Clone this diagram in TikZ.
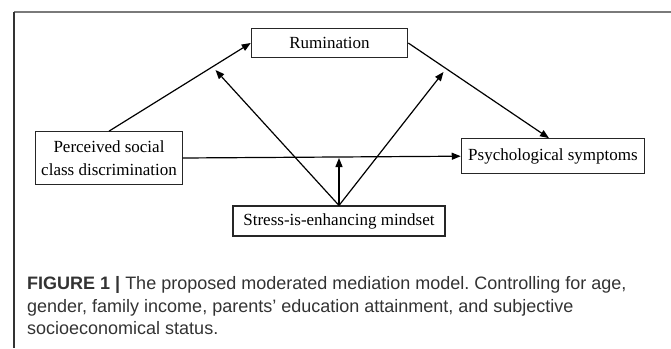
\documentclass[tikz,border=0pt]{standalone}
\usepackage{fontspec}
\setmainfont{Liberation Serif}
\newfontfamily\capfont{Liberation Sans}
\usetikzlibrary{arrows.meta}
\frenchspacing
\definecolor{capgray}{HTML}{333333}
\definecolor{framegray}{HTML}{7A7A7A}
\tikzset{
  box/.style={draw=black!85, line width=1.1pt, inner sep=0pt, align=center,
    font=\fontsize{17}{22.5}\selectfont},
  conn/.style={line width=1.2pt, -{Triangle[length=9pt,width=7pt]}},
  capline/.style={anchor=base west, inner sep=0pt, text=capgray,
    font=\capfont\fontsize{18}{22}\selectfont}
}
\begin{document}
\begin{tikzpicture}[x=1pt,y=-1pt]
\useasboundingbox (0,0) rectangle (671,348);
% frame
\draw[framegray, line width=1.3pt] (14,12) -- (671,12);
\draw[black!80, line width=1.3pt] (14,12) -- (14,348);
% nodes
\node[box, minimum width=156.4pt, minimum height=28.6pt] (R) at (329.5,43) {Rumination};
\node[box, minimum width=146.3pt, minimum height=52.6pt] (P) at (109,158) {Perceived social\\class discrimination};
\node[box, minimum width=183.4pt, minimum height=35pt] (Y) at (553,156.2) {Psychological symptoms};
\node[box, minimum width=212pt, minimum height=30pt] (S) at (339,221) {Stress-is-enhancing mindset};
% moderation targets
\coordinate (ma) at (215.5,70);
\coordinate (mb) at (443.5,72);
% paths
\draw[conn] (P.north) -- (R.west);
\draw[conn] (R.east) -- ([xshift=-4pt]Y.north);
\draw[conn] (P.east) -- (Y.west);
\draw[conn] (S.north) -- (ma);
\draw[conn] (S.north) -- (mb);
\draw[conn] (S.north) -- (S.north |- P.east);
% caption
\node[capline] (c1) at (27,289.5) {\textbf{FIGURE 1 |} The proposed moderated mediation model. Controlling for age,};
\node[capline] (c2) at (27,312) {gender, family income, parents’ education attainment, and subjective};
\node[capline] (c3) at (27,334.5) {socioeconomical status.};
\end{tikzpicture}
\end{document}
